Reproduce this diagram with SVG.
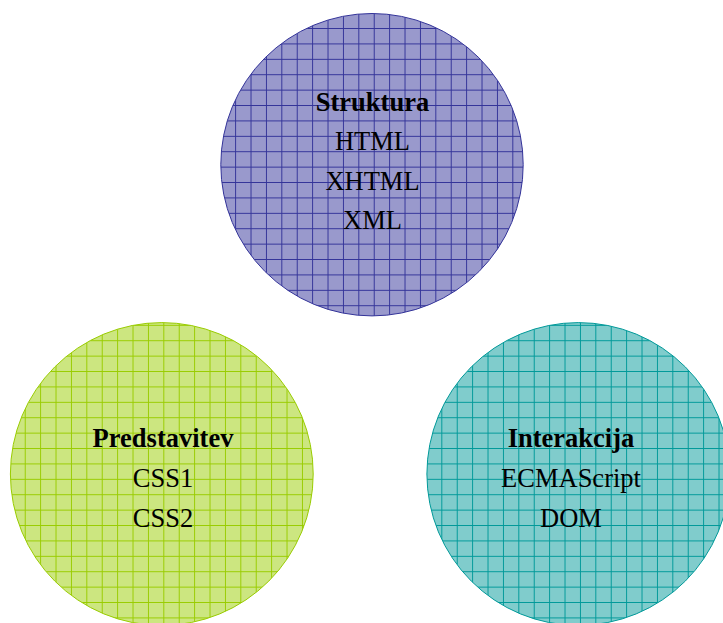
<svg xmlns="http://www.w3.org/2000/svg" width="723" height="623" viewBox="0 0 723 623">
  <style>
    .lbl { font-family: "Liberation Serif", "Times New Roman", serif; font-size: 26.5px; text-anchor: middle; fill: #000; }
    .hd { font-weight: bold; }
    .grid { stroke-width: 1; fill: none; shape-rendering: crispEdges; }
  </style>
  <defs>
    <!-- hatched grid fills, one per circle, phased to each circle's bounding box -->
    <pattern id="gridBlue" patternUnits="userSpaceOnUse" x="220.7" y="13.6" width="15.4" height="15.4">
      <rect width="15.4" height="15.4" fill="#9999cc"/>
      <path class="grid" d="M15.4 0V15.4M0 15.4H15.4" stroke="#333399"/>
    </pattern>
    <pattern id="gridGreen" patternUnits="userSpaceOnUse" x="10.3" y="325.8" width="15.4" height="15.4">
      <rect width="15.4" height="15.4" fill="#cce680"/>
      <path class="grid" d="M15.4 0V15.4M0 15.4H15.4" stroke="#99cc00"/>
    </pattern>
    <pattern id="gridTeal" patternUnits="userSpaceOnUse" x="426.9" y="325.8" width="15.4" height="15.4">
      <rect width="15.4" height="15.4" fill="#80cccc"/>
      <path class="grid" d="M15.4 0V15.4M0 15.4H15.4" stroke="#009999"/>
    </pattern>
  </defs>

  <g id="connectors"/>

  <g id="struktura">
    <circle cx="372" cy="164.7" r="151.2" fill="url(#gridBlue)" stroke="#333399" stroke-width="1"/>
    <text class="lbl hd" x="372.5" y="110.7">Struktura</text>
    <text class="lbl" x="372.5" y="150">HTML</text>
    <text class="lbl" x="372.5" y="189.5">XHTML</text>
    <text class="lbl" x="372.5" y="228.5">XML</text>
  </g>

  <g id="predstavitev">
    <circle cx="161.8" cy="474" r="151.4" fill="url(#gridGreen)" stroke="#99cc00" stroke-width="1"/>
    <text class="lbl hd" x="163" y="447">Predstavitev</text>
    <text class="lbl" x="163" y="487">CSS1</text>
    <text class="lbl" x="163" y="526.5">CSS2</text>
  </g>

  <g id="interakcija">
    <circle cx="578.3" cy="474" r="151.4" fill="url(#gridTeal)" stroke="#009999" stroke-width="1"/>
    <text class="lbl hd" x="571" y="447">Interakcija</text>
    <text class="lbl" x="571" y="487">ECMAScript</text>
    <text class="lbl" x="571" y="526.5">DOM</text>
  </g>
</svg>
